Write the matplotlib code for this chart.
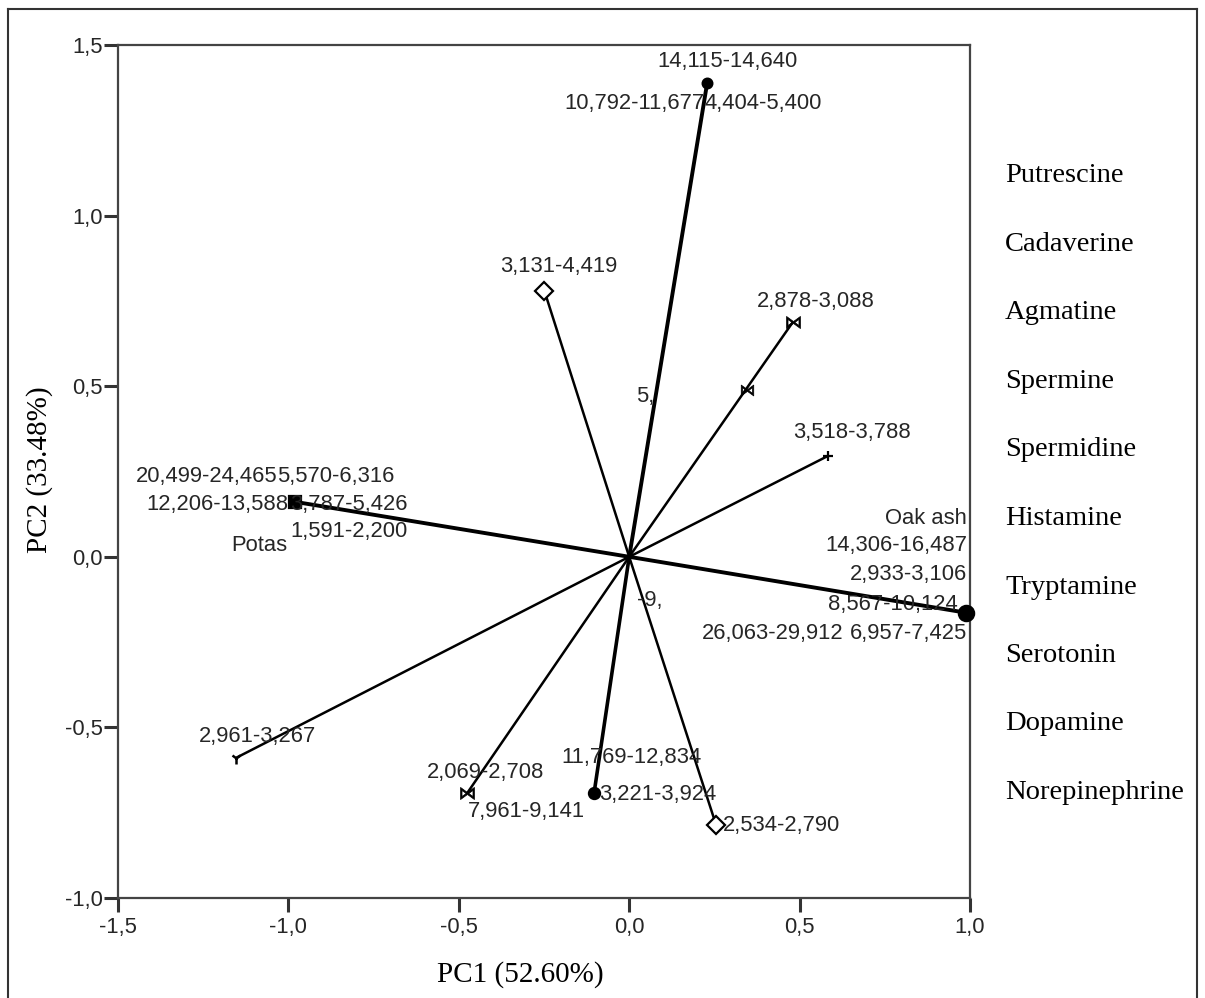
import matplotlib
matplotlib.use("Agg")
import matplotlib.pyplot as plt
from matplotlib.lines import Line2D

# ---------------- data ----------------
# vector end points (PC1, PC2) of the biplot
vec_names = ["A", "B", "C", "C2", "D", "Potas", "Oak ash", "E", "F", "G", "H"]
pc1 = [0.229, -0.249, 0.481, 0.346, 0.584, -0.980, 0.989, -1.153, -0.475, -0.103, 0.255]
pc2 = [1.390, 0.780, 0.689, 0.490, 0.296, 0.161, -0.164, -0.589, -0.692, -0.692, -0.786]

# labels attached to the vector ends
label_texts = ["14,115-14,640", "10,792-11,677", "4,404-5,400",
               "3,131-4,419", "2,878-3,088", "3,518-3,788",
               "20,499-24,465", "5,570-6,316", "12,206-13,588", "3,787-5,426",
               "1,591-2,200", "Potas",
               "Oak ash", "14,306-16,487", "2,933-3,106", "8,567-10,124",
               "26,063-29,912", "6,957-7,425",
               "2,961-3,267", "2,069-2,708", "11,769-12,834", "3,221-3,924",
               "7,961-9,141", "2,534-2,790", "5,", "-9,"]

amines = ["Putrescine", "Cadaverine", "Agmatine", "Spermine", "Spermidine",
          "Histamine", "Tryptamine", "Serotonin", "Dopamine", "Norepinephrine"]

xticks = [-1.5, -1.0, -0.5, 0.0, 0.5, 1.0]
yticks = [-1.0, -0.5, 0.0, 0.5, 1.0, 1.5]
x_title = "PC1 (52.60%)"
y_title = "PC2 (33.48%)"

# ---------------- style ----------------
W, H = 1205, 998
fig = plt.figure(figsize=(W / 100, H / 100), dpi=100)
L, R, T, B = 118, 970, 45, 898
ax = fig.add_axes([L / W, 1 - B / H, (R - L) / W, (B - T) / H])
ax.set_xlim(-1.5, 1.0)
ax.set_ylim(-1.0, 1.5)

sans = "Liberation Sans"
serif = "Liberation Serif"
tcol = "#262626"

# line widths / markers per vector
lws = [2.8, 1.8, 1.8, 0, 1.8, 2.8, 2.8, 1.8, 1.8, 2.6, 1.8]
mk = ["o", "D", r"$\bowtie$", r"$\bowtie$", "+", "s", "o", "1", r"$\bowtie$", "o", "D"]
mfill = ["k", "white", "k", "k", "k", "k", "k", "k", "k", "k", "white"]
msize = [7, 9, 10, 9, 7, 9, 11, 8, 10, 8, 9]
mews = [1.6, 1.6, 0.5, 0.5, 1.6, 1.6, 1.6, 1.8, 0.5, 1.6, 1.6]

for i in range(len(vec_names)):
    if lws[i] > 0:
        ax.plot([0, pc1[i]], [0, pc2[i]], color="k", lw=lws[i], solid_capstyle="butt", zorder=2)
    ax.plot(pc1[i], pc2[i], marker=mk[i], color="k", mfc=mfill[i], mec="k",
            ms=msize[i], mew=mews[i], zorder=3, clip_on=False)

# label positions in pixel coordinates (x, y, ha)
lab_pos = [(727, 62, "center"), (704, 104, "right"), (704, 104, "left"),
           (559, 267, "center"), (816, 302, "center"), (852, 433, "center"),
           (277, 477, "right"), (277, 477, "left"), (288, 505, "right"), (290, 505, "left"),
           (290, 532, "left"), (287, 546, "right"),
           (967, 519, "right"), (967, 546, "right"), (967, 575, "right"), (958, 605, "right"),
           (843, 634, "right"), (967, 634, "right"),
           (199, 737, "left"), (427, 773, "left"), (561, 758, "left"), (599, 795, "left"),
           (468, 812, "left"), (723, 826, "left"), (636, 397, "left"), (637, 601, "left")]


def px2data(px, py):
    return (px - 629) / 340.8, (557 - py) / 341.2


for txt, (px, py, ha) in zip(label_texts, lab_pos):
    x, y = px2data(px, py)
    ax.text(x, y, txt, ha=ha, va="center", fontsize=15.8, family=sans, color=tcol, zorder=4)

# axes styling
for s in ax.spines.values():
    s.set_color("#444444")
    s.set_linewidth(1.6)
ax.set_xticks(xticks)
ax.set_yticks(yticks)
ax.set_xticklabels([f"{v:.1f}".replace(".", ",") for v in xticks])
ax.set_yticklabels([f"{v:.1f}".replace(".", ",") for v in yticks])
ax.tick_params(direction="out", length=10, width=2.2, color="#333333",
               labelsize=15.8, labelcolor=tcol)
ax.tick_params(axis="x", pad=4)
ax.tick_params(axis="y", pad=1)
for lab in ax.get_xticklabels() + ax.get_yticklabels():
    lab.set_family(sans)

fig.text(520 / W, 1 - 975 / H, x_title, ha="center", va="center", fontsize=21, family=serif, color="k")
fig.text(40 / W, 1 - 470 / H, y_title, ha="center", va="center", fontsize=21, family=serif,
         color="k", rotation=90)

# amine list on the right
for k, name in enumerate(amines):
    fig.text(1005 / W, 1 - (176 + k * 68.5) / H, name, ha="left", va="center",
             fontsize=20.5, family=serif, color="k")

# outer frame
for xs, ys in [([8, 8], [9, 998]), ([8, 1197], [9, 9]), ([1197, 1197], [9, 998])]:
    fig.add_artist(Line2D([x / W for x in xs], [1 - y / H for y in ys], color="#333333", lw=1.5))

fig.savefig("out.png", dpi=100, facecolor="white")
